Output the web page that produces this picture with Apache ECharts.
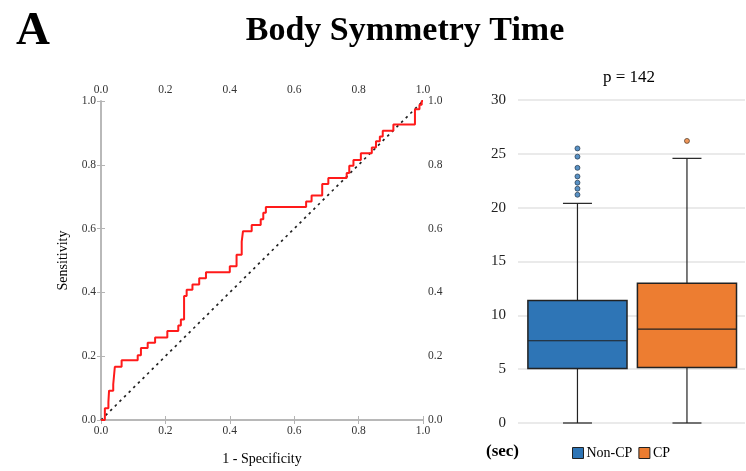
<!DOCTYPE html>
<html>
<head>
<meta charset="utf-8">
<script src="https://cdn.jsdelivr.net/npm/echarts@6/dist/echarts.min.js"></script>
<style>
  html, body { margin: 0; padding: 0; background: #fff; }
  #chart { width: 746px; height: 471px; }
</style>
</head>
<body>
<div id="chart"></div>
<script>
// ROC curve corner points (1 - specificity, sensitivity)
var rocFpr = [0, 0.012, 0.023, 0.025, 0.038, 0.043, 0.064, 0.114, 0.124, 0.145, 0.168, 0.206, 0.240, 0.248,
  0.258, 0.266, 0.284, 0.305, 0.326, 0.400, 0.421, 0.437, 0.441, 0.468, 0.496, 0.504, 0.512, 0.637,
  0.654, 0.687, 0.706, 0.763, 0.771, 0.784, 0.807, 0.841, 0.854, 0.866, 0.875, 0.908, 0.975, 0.989, 0.996, 1.0];
var rocTpr = [0, 0.037, 0.056, 0.092, 0.112, 0.167, 0.187, 0.203, 0.226, 0.242, 0.259, 0.279, 0.296, 0.315,
  0.389, 0.408, 0.425, 0.444, 0.463, 0.482, 0.518, 0.559, 0.592, 0.611, 0.629, 0.650, 0.668, 0.685,
  0.704, 0.740, 0.759, 0.774, 0.797, 0.815, 0.836, 0.854, 0.874, 0.889, 0.907, 0.926, 0.974, 0.988, 1.0, 1.0];

// box plot: min, Q1, median, Q3, max
var groups = ['Non-CP', 'CP'];
var nonCpBox = [0, 5.06, 7.64, 11.38, 20.4];
var cpBox = [0, 5.15, 8.71, 12.98, 24.58];
var nonCpOutliers = [21.2, 21.76, 22.32, 22.9, 23.7, 24.74, 25.5];
var cpOutliers = [26.2];

var serif = 'Liberation Serif';
var axisGray = '#b4b4b4';
var blue = '#2e75b6';
var orange = '#ed7d31';

var rocData = rocFpr.map(function (x, i) { return [x, rocTpr[i]]; });

function rocAxis(pos) {
  return {
    type: 'value', min: 0, max: 1, interval: 0.2,
    gridIndex: 0,
    position: pos,
    axisLine: { show: true, lineStyle: { color: axisGray, width: 1.5 } },
    axisTick: { show: true, length: 4, lineStyle: { color: axisGray } },
    splitLine: { show: false },
    axisLabel: {
      fontFamily: serif, fontSize: 11.5, color: '#333', margin: 5,
      formatter: function (v) { return v.toFixed(1); }
    }
  };
}

var xBottom = rocAxis('bottom');
xBottom.name = '1 - Specificity';
xBottom.nameLocation = 'middle';
xBottom.nameGap = 32;
xBottom.nameTextStyle = { fontFamily: serif, fontSize: 14, color: '#000' };
var xTop = rocAxis('top');
var yLeft = rocAxis('left');
yLeft.name = 'Sensitivity';
yLeft.nameLocation = 'middle';
yLeft.nameGap = 31;
yLeft.nameTextStyle = { fontFamily: serif, fontSize: 14, color: '#000' };
var yRight = rocAxis('right');

// box, whiskers and caps drawn through the axis scales
function boxRenderer(fill) {
  return function (params, api) {
    var x = api.value(0);
    var lo = api.coord([x, api.value(1)]);
    var q1 = api.coord([x, api.value(2)]);
    var med = api.coord([x, api.value(3)]);
    var q3 = api.coord([x, api.value(4)]);
    var hi = api.coord([x, api.value(5)]);
    var bw = api.size([0.905, 0])[0];
    var cw = 29;
    var cx = lo[0];
    var st = { stroke: '#222', lineWidth: 1.2 };
    return {
      type: 'group',
      children: [
        { type: 'line', shape: { x1: cx, y1: hi[1], x2: cx, y2: q3[1] }, style: st },
        { type: 'line', shape: { x1: cx, y1: q1[1], x2: cx, y2: lo[1] }, style: st },
        { type: 'line', shape: { x1: cx - cw / 2, y1: hi[1], x2: cx + cw / 2, y2: hi[1] }, style: st },
        { type: 'line', shape: { x1: cx - cw / 2, y1: lo[1], x2: cx + cw / 2, y2: lo[1] }, style: st },
        { type: 'rect', shape: { x: cx - bw / 2, y: q3[1], width: bw, height: q1[1] - q3[1] },
          style: { fill: fill, stroke: '#222', lineWidth: 1.5 } },
        { type: 'line', shape: { x1: cx - bw / 2, y1: med[1], x2: cx + bw / 2, y2: med[1] }, style: st }
      ]
    };
  };
}

var chart = echarts.init(document.getElementById('chart'));
chart.setOption({
  backgroundColor: '#fff',
  animation: false,
  title: [
    { text: 'A', left: 11, top: 3, textStyle: { fontFamily: serif, fontSize: 47, fontWeight: 'bold', color: '#000' } },
    { text: 'Body Symmetry Time', left: 400, top: 9, textAlign: 'center',
      textStyle: { fontFamily: serif, fontSize: 34, fontWeight: 'bold', color: '#000' } },
    { text: 'p = 142', left: 624, top: 64, textAlign: 'center',
      textStyle: { fontFamily: serif, fontSize: 17, fontWeight: 'normal', color: '#000' } },
    { text: '(sec)', left: 481, top: 438,
      textStyle: { fontFamily: serif, fontSize: 17, fontWeight: 'bold', color: '#000' } }
  ],
  legend: {
    data: [
      { name: groups[0], itemStyle: { color: blue, borderColor: '#222', borderWidth: 1 } },
      { name: groups[1], itemStyle: { color: orange, borderColor: '#222', borderWidth: 1 } }
    ],
    left: 572, top: 446, padding: 0, icon: 'rect', itemWidth: 11, itemHeight: 11, itemGap: 6,
    textStyle: { fontFamily: serif, fontSize: 14, color: '#000', padding: [0, 0, 0, -2] }
  },
  grid: [
    { left: 101, top: 101, width: 322, height: 323 },
    { left: 518, top: 100, right: 1, bottom: 48 }
  ],
  xAxis: [xBottom, xTop, {
    type: 'value', gridIndex: 1, min: -0.543, max: 1.53, show: false
  }],
  yAxis: [yLeft, yRight, {
    type: 'value', gridIndex: 1, min: 0, max: 30, interval: 5,
    axisLine: { show: false }, axisTick: { show: false },
    splitLine: { lineStyle: { color: '#e3e3e3', width: 1.5 } },
    axisLabel: { fontFamily: serif, fontSize: 15, color: '#222', margin: 12 }
  }],
  series: [
    {
      type: 'line', xAxisIndex: 0, yAxisIndex: 0, data: [[0, 0], [1, 1]],
      symbol: 'none', silent: true,
      lineStyle: { color: '#222', width: 1.7, type: [2.5, 4] }
    },
    {
      type: 'line', xAxisIndex: 0, yAxisIndex: 0, data: rocData, step: 'end',
      symbol: 'none', lineStyle: { color: '#ff1a1a', width: 2 }
    },
    {
      name: groups[0], type: 'custom', xAxisIndex: 2, yAxisIndex: 2,
      itemStyle: { color: blue },
      renderItem: boxRenderer(blue),
      encode: { x: 0, y: [1, 2, 3, 4, 5] },
      data: [[0].concat(nonCpBox)]
    },
    {
      name: groups[1], type: 'custom', xAxisIndex: 2, yAxisIndex: 2,
      itemStyle: { color: orange },
      renderItem: boxRenderer(orange),
      encode: { x: 0, y: [1, 2, 3, 4, 5] },
      data: [[1].concat(cpBox)]
    },
    {
      type: 'scatter', xAxisIndex: 2, yAxisIndex: 2,
      data: nonCpOutliers.map(function (v) { return [0, v]; }),
      symbolSize: 5, itemStyle: { color: blue, borderColor: '#1a2a3a', borderWidth: 0.8 }
    },
    {
      type: 'scatter', xAxisIndex: 2, yAxisIndex: 2,
      data: cpOutliers.map(function (v) { return [1, v]; }),
      symbolSize: 5, itemStyle: { color: orange, borderColor: '#3a2a1a', borderWidth: 0.8 }
    }
  ]
});
</script>
</body>
</html>
